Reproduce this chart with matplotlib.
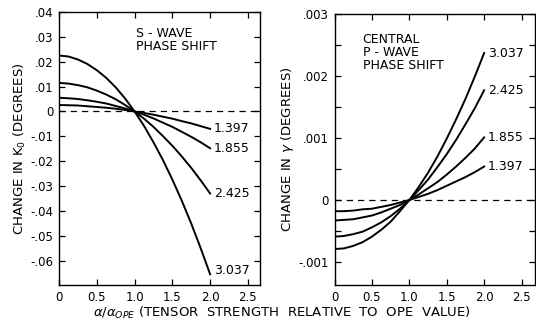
import matplotlib
matplotlib.use("Agg")
import matplotlib.pyplot as plt
from matplotlib.ticker import MultipleLocator, FuncFormatter

plt.rcParams['font.family'] = ['DejaVu Sans']

alpha = [0.0, 0.125, 0.25, 0.375, 0.5, 0.625, 0.75, 0.875, 1.0,
         1.125, 1.25, 1.375, 1.5, 1.625, 1.75, 1.875, 2.0]
labels = ["3.037", "2.425", "1.855", "1.397"]

# S-wave phase shift, change in K0 (degrees)
s_wave = [
    [0.0225, 0.0221, 0.0209, 0.0191, 0.0166, 0.0135, 0.0097, 0.0052, 0.0,
     -0.0058, -0.0124, -0.0195, -0.0274, -0.0359, -0.0451, -0.0550, -0.0655],
    [0.0115, 0.0112, 0.0106, 0.0097, 0.0084, 0.0068, 0.0049, 0.0026, 0.0,
     -0.0029, -0.0062, -0.0099, -0.0138, -0.0181, -0.0227, -0.0277, -0.0330],
    [0.0055, 0.0053, 0.0050, 0.0045, 0.0039, 0.0032, 0.0022, 0.0012, 0.0,
     -0.0013, -0.0028, -0.0045, -0.0062, -0.0082, -0.0102, -0.0124, -0.0148],
    [0.0026, 0.0025, 0.0024, 0.0021, 0.0018, 0.0015, 0.0011, 0.0006, 0.0,
     -0.0006, -0.0013, -0.0021, -0.0029, -0.0039, -0.0048, -0.0059, -0.0070],
]

# central P-wave phase shift, change in gamma (degrees)
p_wave = [
    [-0.00079, -0.00078, -0.00074, -0.00068, -0.00059, -0.00048, -0.00035, -0.00018, 0.0,
     0.00021, 0.00044, 0.00070, 0.00099, 0.00130, 0.00163, 0.00199, 0.00237],
    [-0.00059, -0.00058, -0.00055, -0.00051, -0.00044, -0.00036, -0.00026, -0.00014, 0.0,
     0.00016, 0.00033, 0.00053, 0.00074, 0.00097, 0.00122, 0.00148, 0.00177],
    [-0.00033, -0.00032, -0.00031, -0.00028, -0.00025, -0.00020, -0.00014, -0.00008, 0.0,
     0.00009, 0.00019, 0.00029, 0.00041, 0.00054, 0.00068, 0.00083, 0.00101],
    [-0.00018, -0.00018, -0.00017, -0.00015, -0.00014, -0.00011, -0.00008, -0.00004, 0.0,
     0.00005, 0.00010, 0.00016, 0.00023, 0.00030, 0.00037, 0.00045, 0.00054],
]

fig = plt.figure(figsize=(5.36, 3.26), dpi=100)
W, H = 536, 326
ax1 = fig.add_axes([59 / W, 1 - 285 / H, 201 / W, 273 / H])
ax2 = fig.add_axes([334.5 / W, 1 - 285 / H, 200.5 / W, 271 / H])

fs = 8.5


def style(ax):
    for sp in ax.spines.values():
        sp.set_linewidth(1.0)
    ax.tick_params(which='both', direction='in', top=True, right=True,
                   labelsize=fs, width=0.9, pad=4, length=4)
    ax.xaxis.set_major_locator(MultipleLocator(0.5))
    ax.xaxis.set_major_formatter(FuncFormatter(lambda v, p: "0" if v == 0 else "%.1f" % v))
    ax.axhline(0, color='black', lw=0.9, ls=(0, (5, 4)))


# left panel
for ys, lab in zip(s_wave, labels):
    ax1.plot(alpha, ys, color='black', lw=1.4)
    dy = 0.0015 if lab == "3.037" else 0.0
    ax1.text(2.05, ys[-1] + dy, lab, fontsize=fs + 0.5, va='center', ha='left')
ax1.set_xlim(0, 2.66)
ax1.set_ylim(-0.0698, 0.04)
style(ax1)
ax1.yaxis.set_major_locator(MultipleLocator(0.01))
ax1.yaxis.set_major_formatter(FuncFormatter(
    lambda v, p: "0" if abs(v) < 1e-9 else ("%.2f" % v).replace("0.", ".")))
ax1.text(0.385, 0.945, "S - WAVE\nPHASE SHIFT", transform=ax1.transAxes,
         fontsize=fs + 0.5, va='top', ha='left', linespacing=1.0)
ax1.set_ylabel("CHANGE IN K$_0$ (DEGREES)", fontsize=9.5, labelpad=2)

# right panel
for ys, lab in zip(p_wave, labels):
    ax2.plot(alpha, ys, color='black', lw=1.4)
    ax2.text(2.05, ys[-1], lab, fontsize=fs + 0.5, va='center', ha='left')
ax2.set_xlim(0, 2.68)
ax2.set_ylim(-0.00137, 0.003)
style(ax2)
ax2.yaxis.set_major_locator(MultipleLocator(0.001))
ax2.yaxis.set_minor_locator(MultipleLocator(0.0005))
ax2.yaxis.set_major_formatter(FuncFormatter(
    lambda v, p: "0" if abs(v) < 1e-9 else ("%.3f" % v).replace("0.", ".")))
ax2.text(0.14, 0.93, "CENTRAL\nP - WAVE\nPHASE SHIFT", transform=ax2.transAxes,
         fontsize=fs + 0.5, va='top', ha='left', linespacing=1.0)
ax2.set_ylabel("CHANGE IN $\\gamma$ (DEGREES)", fontsize=9.5, labelpad=2)

fig.text(0.525, 0.04, "$\\alpha/\\alpha_{OPE}$ (TENSOR  STRENGTH  RELATIVE  TO  OPE  VALUE)",
         fontsize=9.5, ha='center', va='center')

fig.savefig("out.png", dpi=100)
